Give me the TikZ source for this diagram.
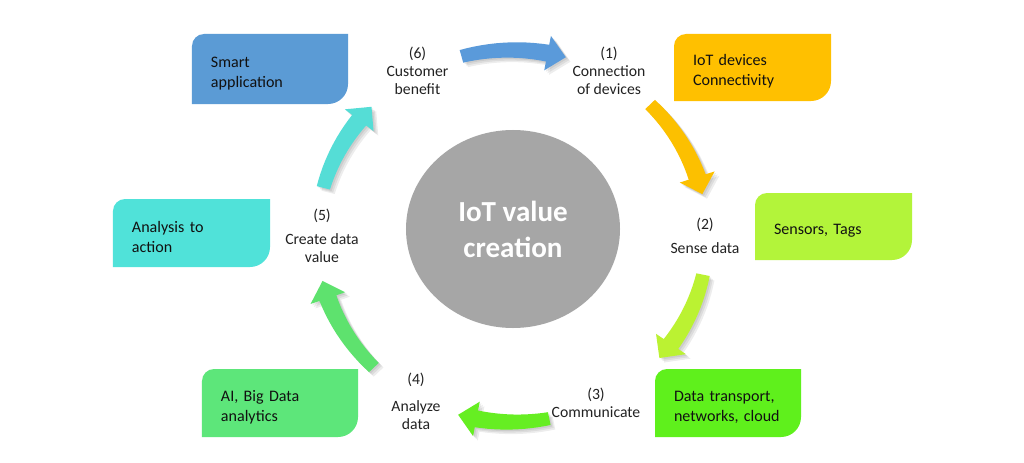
\documentclass[tikz,border=0pt]{standalone}
\usepackage{fontspec}
\setmainfont{Carlito}
\usetikzlibrary{shapes.geometric}
\definecolor{cBlue}{HTML}{5B9BD5}
\definecolor{cGold}{HTML}{FFC000}
\definecolor{cLime}{HTML}{B3F43A}
\definecolor{cGreen}{HTML}{5FF01C}
\definecolor{cMint}{HTML}{5DE67A}
\definecolor{cCyan}{HTML}{50E2D9}
\definecolor{cGray}{HTML}{A6A6A6}
\definecolor{cText}{HTML}{222222}
\definecolor{cBoxText}{HTML}{111111}
\definecolor{aBlue}{HTML}{5A9ADA}
\definecolor{aGold}{HTML}{FCC000}
\definecolor{aLime}{HTML}{BBF232}
\definecolor{aGreen}{HTML}{66EE22}
\definecolor{aMint}{HTML}{5EE26E}
\definecolor{aCyan}{HTML}{55DDD6}
\newcommand\lblfont{\fontsize{13.4}{15.4}\selectfont}
\newcommand\boxfont{\fontsize{13.7}{17}\selectfont}
\newcommand\ctrfont{\fontsize{24.8}{30.7}\selectfont\bfseries}
\def\Rm{186}\def\Rh{203.5}\def\Rhi{168.5}
\newcommand\arcpath[3]{%
  \fill[#3] ({#1}:{\Rm+6.5})
    \foreach \i in {1,...,12}{ -- ({#1+(#2+5.5-(#1))*\i/12}:{\Rm+6.5+2*\i/12}) }
    -- ({#2+5.5}:\Rh) -- ({#2}:\Rm) -- ({#2+5.5}:\Rhi)
    \foreach \i in {12,...,0}{ -- ({#1+(#2+5.5-(#1))*\i/12}:{\Rm-6.5-2*\i/12}) }
    -- cycle;}
\newcommand\curvedarrow[3]{%
  \foreach \s in {1.5,3,4.5}{\begin{scope}[shift={(\s,-\s)}]\arcpath{#1}{#2}{black,opacity=0.07}\end{scope}}%
  \arcpath{#1}{#2}{#3}}
\tikzset{
  lbl/.style={font=\lblfont, text=cText, align=center, inner sep=0pt},
  dbox/.style={draw=none, inner ysep=0pt, inner xsep=0.57cm, align=left,
    font=\boxfont, text=cBoxText,
    execute at begin node={\rule{0pt}{16.5pt}},
    path picture={\fill[#1] (path picture bounding box.south west)
      -- ([yshift=-0.36cm]path picture bounding box.north west)
      arc[start angle=180, end angle=90, radius=0.36cm]
      -- (path picture bounding box.north east)
      -- ([yshift=0.6cm]path picture bounding box.south east)
      arc[start angle=0, end angle=-90, radius=0.6cm] -- cycle;}},
  hub/.style={ellipse, fill=cGray, text=white, font=\ctrfont, align=center,
    minimum width=6.42cm, minimum height=5.94cm, inner sep=0pt}
}
\begin{document}
\begin{tikzpicture}[x=0.03cm, y=0.03cm]
\useasboundingbox (0,0) rectangle (1024,462);
\fill[white] (0,0) rectangle (1024,462);

% centre
\node[hub] (core) at (513,233) {IoT value\\creation};

% boxes
\node[dbox=cBlue, minimum width=4.68cm, minimum height=2.1cm, text width=3.54cm] (smart) at (270,393) {Smart\\application};
\node[dbox=cGold, minimum width=4.71cm, minimum height=2.01cm, text width=3.57cm] (iot) at (752.5,394.5) {IoT devices\\Connectivity};
\node[dbox=cLime, minimum width=4.71cm, minimum height=2.01cm, text width=3.57cm] (sens) at (833.5,235.5) {Sensors, Tags};
\node[dbox=cGreen, minimum width=4.38cm, minimum height=2.04cm, text width=3.24cm] (trans) at (728,59) {Data transport,\\networks, cloud};
\node[dbox=cMint, minimum width=4.68cm, minimum height=2.04cm, text width=3.54cm] (ai) at (280,59) {AI, Big Data\\analytics};
\node[dbox=cCyan, minimum width=4.71cm, minimum height=2.04cm, text width=3.57cm] (act) at (191.5,229) {Analysis to\\action};

% step labels
\node[lbl] (s6) at (417.5,391) {(6)\\Customer\\benefit};
\node[lbl] (s1) at (609,391.5) {(1)\\Connection\\of devices};
\node[lbl] (s2) at (705,226) {(2)\\[5pt]Sense data};
\node[lbl] (s3) at (596,59.5) {(3)\\Communicate};
\node[lbl] (s4) at (416,60.5) {(4)\\[7.7pt]Analyze\\data};
\node[lbl] (s5) at (322,226.5) {(5)\\[5pt]Create data\\value};

% curved block arrows
\begin{scope}[shift={(512,226)}, xscale=1.05]
  \curvedarrow{105}{74}{aBlue}
  \curvedarrow{45}{13}{aGold}
  \curvedarrow{-12}{-41}{aLime}
  \curvedarrow{-79}{-106}{aGreen}
  \curvedarrow{-135}{-166}{aMint}
  \curvedarrow{165}{136}{aCyan}
\end{scope}
\end{tikzpicture}
\end{document}
